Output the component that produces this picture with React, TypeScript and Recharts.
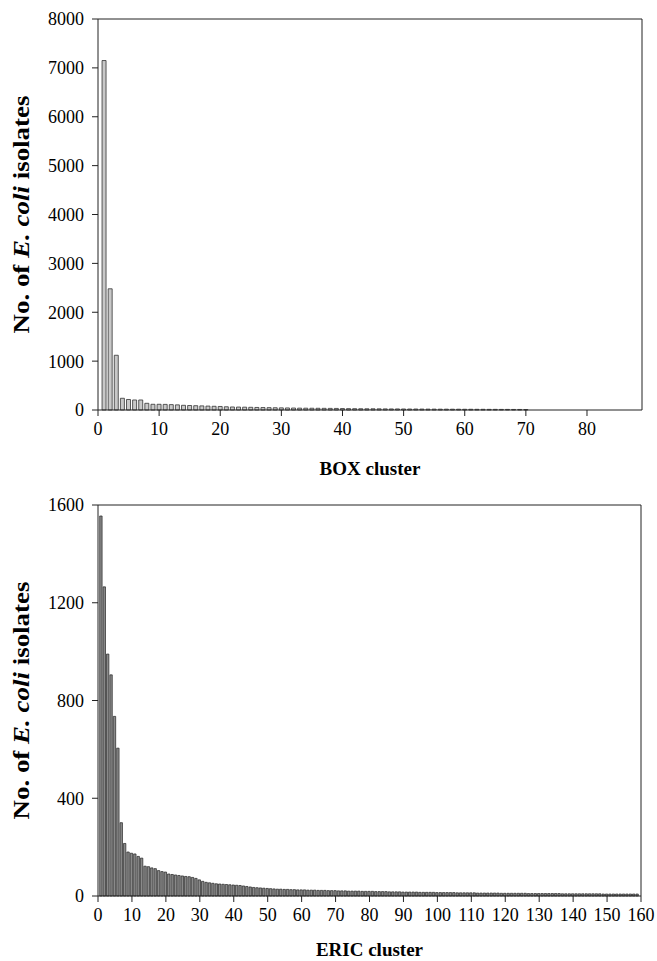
import React from "react";
import { BarChart, Bar, XAxis, YAxis, ReferenceLine, Label } from "recharts";

const BOX_COUNTS = [
  7150, 2480, 1120, 240, 215, 205, 205, 137, 117, 117,
  115, 110, 105, 96, 92, 88, 84, 80, 76, 72,
  66, 62, 60, 58, 55, 52, 50, 48, 46, 44,
  42, 40, 38, 37, 36, 35, 34, 33, 32, 30,
  28, 27, 26, 25, 25, 24, 23, 22, 22, 21,
  20, 20, 19, 18, 18, 17, 17, 16, 16, 15,
  15, 14, 14, 13, 13, 12, 12, 11, 11, 10,
];
const BOX_X_TICKS = [0, 10, 20, 30, 40, 50, 60, 70, 80];
const BOX_Y_TICKS = [0, 1000, 2000, 3000, 4000, 5000, 6000, 7000, 8000];
const BOX_X_MAX = 89;
const BOX_Y_MAX = 8000;

const ERIC_COUNTS = [
  1555, 1265, 990, 905, 735, 605, 300, 215, 180, 175,
  172, 162, 155, 122, 120, 115, 112, 104, 100, 98,
  90, 88, 86, 84, 82, 80, 79, 76, 72, 66,
  60, 56, 54, 52, 50, 49, 48, 47, 46, 45,
  44, 43, 41, 39, 37, 35, 34, 33, 32, 31,
  30, 29, 28, 28, 27, 27, 26, 26, 25, 25,
  25, 24, 24, 24, 23, 23, 23, 22, 22, 22,
  21, 21, 21, 20, 20, 20, 20, 19, 19, 19,
  19, 18, 18, 18, 18, 17, 17, 17, 17, 16,
  16, 16, 16, 16, 15, 15, 15, 15, 15, 14,
  14, 14, 14, 14, 14, 13, 13, 13, 13, 13,
  13, 12, 12, 12, 12, 12, 12, 12, 11, 11,
  11, 11, 11, 11, 11, 11, 10, 10, 10, 10,
  10, 10, 10, 10, 10, 10, 9, 9, 9, 9,
  9, 9, 9, 9, 9, 9, 9, 9, 8, 8,
  8, 8, 8, 8, 8, 8, 8, 8, 8,
];
const ERIC_X_TICKS = [0, 10, 20, 30, 40, 50, 60, 70, 80, 90, 100, 110, 120, 130, 140, 150, 160];
const ERIC_Y_TICKS = [0, 400, 800, 1200, 1600];
const ERIC_X_MAX = 160;
const ERIC_Y_MAX = 1600;

const boxData = BOX_COUNTS.map((v, i) => ({ cluster: i + 1, count: v }));
const ericData = ERIC_COUNTS.map((v, i) => ({ cluster: i + 1, count: v }));

const FONT = "'Liberation Serif', 'Times New Roman', serif";
const AXIS = "#222";

const YTitle = (props: any) => {
  const vb = props.viewBox || {};
  const cx = 21;
  const cy = (vb.y || 0) + (vb.height || 0) / 2;
  return (
    <text
      x={cx}
      y={cy}
      transform={`rotate(-90, ${cx}, ${cy})`}
      textAnchor="middle"
      dominantBaseline="central"
      fontFamily={FONT}
      fontWeight="bold"
      fontSize={24}
      textLength={238}
      lengthAdjust="spacingAndGlyphs"
      fill="#000"
    >
      <tspan>No. of </tspan>
      <tspan fontStyle="italic">E. coli</tspan>
      <tspan> isolates</tspan>
    </text>
  );
};

const makeXTitle = (text: string, off: number) => (props: any) => {
  const vb = props.viewBox || {};
  return (
    <text
      x={(vb.x || 0) + (vb.width || 0) / 2}
      y={(vb.y || 0) + off}
      textAnchor="middle"
      fontFamily={FONT}
      fontWeight="bold"
      fontSize={19}
      fill="#000"
    >
      {text}
    </text>
  );
};

const tickStyle = { fontFamily: FONT, fontSize: 18, fill: "#000" };

export default function App() {
  return (
    <div style={{ position: "fixed", left: 0, top: 0, width: 657, height: 961, background: "#fff" }}>
      <BarChart
        width={657}
        height={490}
        data={boxData}
        margin={{ top: 19, right: 15, left: 0, bottom: 0 }}
        barGap={0}
      >
        <XAxis
          dataKey="cluster"
          type="number"
          domain={[0, BOX_X_MAX]}
          ticks={BOX_X_TICKS}
          interval={0}
          height={80}
          tick={tickStyle}
          tickMargin={6}
          stroke={AXIS}
          tickSize={6}
        >
          <Label content={makeXTitle("BOX cluster", 65)} />
        </XAxis>
        <YAxis
          type="number"
          domain={[0, BOX_Y_MAX]}
          ticks={BOX_Y_TICKS}
          interval={0}
          width={98}
          tick={tickStyle}
          tickMargin={8}
          stroke={AXIS}
          tickSize={6}
        >
          <Label content={YTitle} />
        </YAxis>
        <ReferenceLine y={BOX_Y_MAX} stroke={AXIS} strokeWidth={1} />
        <ReferenceLine x={BOX_X_MAX} stroke={AXIS} strokeWidth={1} />
        <Bar
          dataKey="count"
          barSize={4}
          fill="#c8c8c8"
          stroke="#333"
          strokeWidth={0.8}
          isAnimationActive={false}
        />
      </BarChart>
      <BarChart
        width={657}
        height={471}
        data={ericData}
        margin={{ top: 15, right: 16, left: 0, bottom: 0 }}
        barGap={0}
      >
        <XAxis
          dataKey="cluster"
          type="number"
          domain={[0, ERIC_X_MAX]}
          ticks={ERIC_X_TICKS}
          interval={0}
          height={65}
          tick={tickStyle}
          tickMargin={6}
          stroke={AXIS}
          tickSize={6}
        >
          <Label content={makeXTitle("ERIC cluster", 60)} />
        </XAxis>
        <YAxis
          type="number"
          domain={[0, ERIC_Y_MAX]}
          ticks={ERIC_Y_TICKS}
          interval={0}
          width={98}
          tick={tickStyle}
          tickMargin={8}
          stroke={AXIS}
          tickSize={6}
        >
          <Label content={YTitle} />
        </YAxis>
        <ReferenceLine y={ERIC_Y_MAX} stroke={AXIS} strokeWidth={1} />
        <ReferenceLine x={ERIC_X_MAX} stroke={AXIS} strokeWidth={1} />
        <Bar
          dataKey="count"
          barSize={2.4}
          fill="#8a8a8a"
          stroke="#222"
          strokeWidth={0.7}
          isAnimationActive={false}
        />
      </BarChart>
    </div>
  );
}
